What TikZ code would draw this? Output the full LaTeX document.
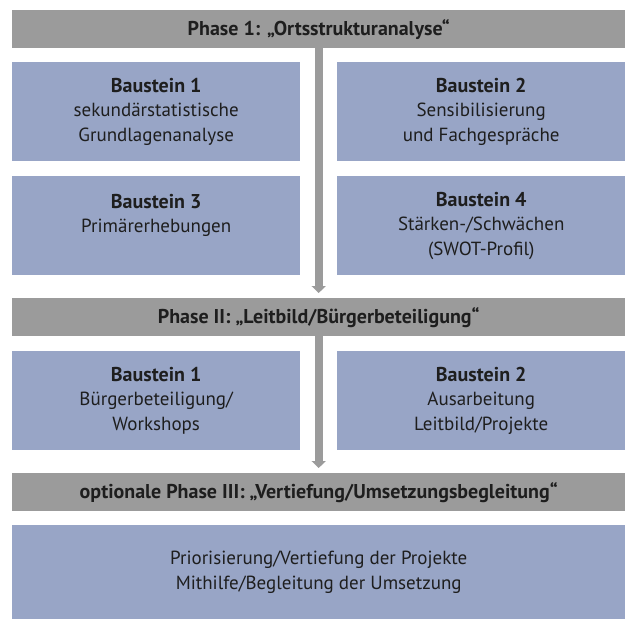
\documentclass[tikz,border=0pt]{standalone}
\usepackage{fontspec}
\setmainfont{PT Sans}
\usetikzlibrary{arrows.meta}
\definecolor{phasegrey}{RGB}{155,155,155}
\definecolor{boxblue}{RGB}{152,165,198}
\definecolor{txt}{RGB}{30,30,30}
\newcommand{\bhead}[1]{{\fontsize{20}{24.5}\selectfont\bfseries #1}}
\begin{document}
\begin{tikzpicture}[x=1pt,y=-1pt,
  phasebar/.style={fill=phasegrey, draw=none, inner sep=0, anchor=north west,
    minimum width=613pt, minimum height=38pt, text=txt,
    font=\fontsize{20}{22}\selectfont\bfseries},
  bstbox/.style={fill=boxblue, draw=none, inner sep=0, anchor=north west,
    minimum width=288pt, text=txt, align=center,
    font=\fontsize{19}{24.5}\selectfont},
  widebox/.style={bstbox, minimum width=613pt, font=\fontsize{19}{25.5}\selectfont},
  flow/.style={draw=phasegrey, line width=8pt,
    -{Triangle[width=14pt,length=7pt]}, shorten >=5pt}
]
\useasboundingbox[fill=white] (0,0) rectangle (630,619);

\node[phasebar] (p1) at (12,10) {Phase 1: „Ortsstrukturanalyse“};
\node[phasebar] (p2) at (12,298) {Phase II: „Leitbild/Bürgerbeteiligung“};
\node[phasebar] (p3) at (12,473) {optionale Phase III: „Vertiefung/Umsetzungsbegleitung“};

\draw[flow] (p1.south) -- (p2.north);
\draw[flow] (p2.south) -- (p3.north);

\node[bstbox, minimum height=99pt] (b1) at (12,62)
  {\bhead{Baustein 1}\\sekundärstatistische\\Grundlagenanalyse};
\node[bstbox, minimum height=99pt] (b2) at (337,62)
  {\bhead{Baustein 2}\\Sensibilisierung\\und Fachgespräche};
\node[bstbox, minimum height=99pt] (b3) at (12,176)
  {\bhead{Baustein 3}\\Primärerhebungen\\\mbox{}};
\node[bstbox, minimum height=99pt] (b4) at (337,176)
  {\bhead{Baustein 4}\\Stärken-/Schwächen\\(SWOT-Profil)};

\node[bstbox, minimum height=99pt] (b5) at (12,351)
  {\bhead{Baustein 1}\\Bürgerbeteiligung/\\Workshops};
\node[bstbox, minimum height=99pt] (b6) at (337,351)
  {\bhead{Baustein 2}\\Ausarbeitung\\Leitbild/Projekte};

\node[widebox, minimum height=94pt] (b7) at (12,525)
  {Priorisierung/Vertiefung der Projekte\\Mithilfe/Begleitung der Umsetzung};
\end{tikzpicture}
\end{document}
